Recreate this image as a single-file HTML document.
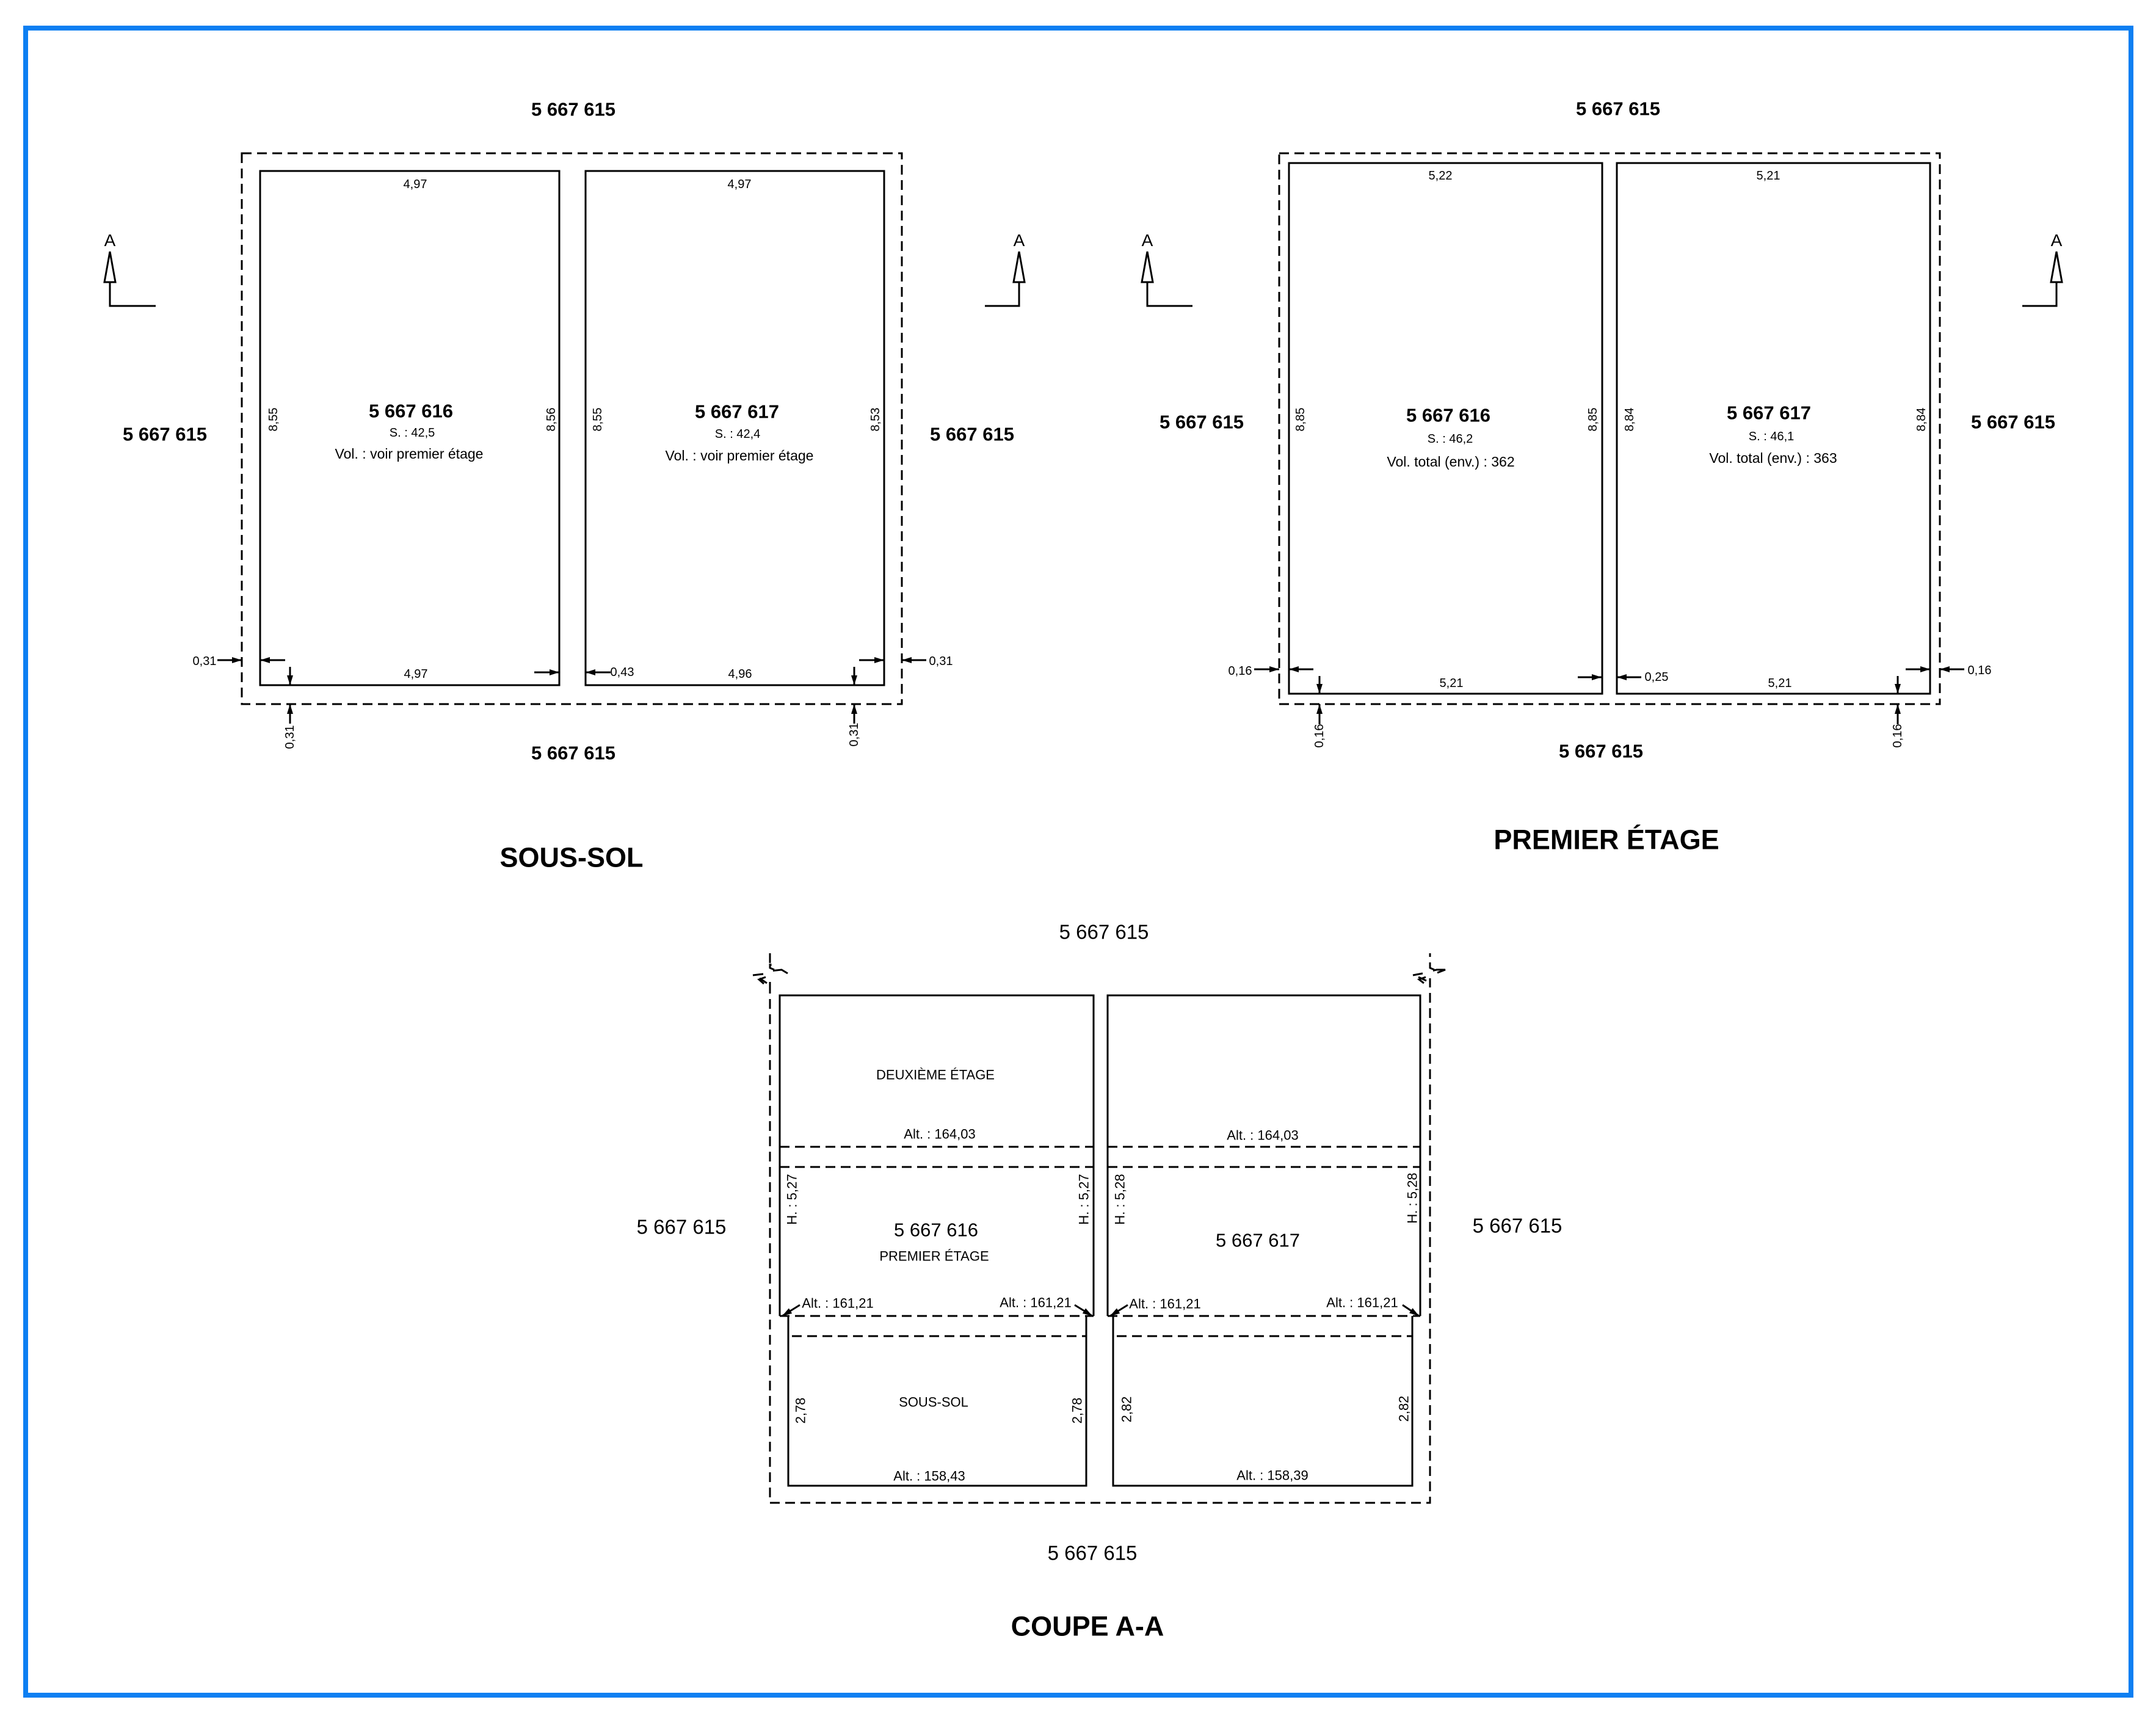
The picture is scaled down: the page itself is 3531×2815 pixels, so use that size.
<!DOCTYPE html>
<html><head><meta charset="utf-8"><style>
html,body{margin:0;padding:0;background:#fff;}
svg{display:block;}
text{font-family:"Liberation Sans",Arial,sans-serif;fill:#000;}
.b{font-weight:bold;font-size:31px;}
.s{font-size:20px;}
.m{font-size:23px;}
.t{font-weight:bold;font-size:45px;}
.r{font-size:33px;}
.c{font-size:22px;}
</style></head><body>
<svg width="3531" height="2815" viewBox="0 0 3531 2815" xmlns="http://www.w3.org/2000/svg">
<defs>
<marker id="ah" viewBox="0 0 16 10" refX="16" refY="5" markerWidth="16" markerHeight="10" markerUnits="userSpaceOnUse" orient="auto">
<path d="M0,0 L16,5 L0,10 Z" fill="#000"/></marker>
</defs>
<rect x="0" y="0" width="3531" height="2815" fill="#fff"/>
<rect x="42" y="46" width="3448" height="2730" fill="none" stroke="#0d7ff2" stroke-width="8"/>

<g fill="none" stroke="#000" stroke-width="3">
<rect x="396" y="251" width="1081" height="902" stroke-dasharray="16,9"/>
<rect x="426" y="280" width="490" height="842"/>
<rect x="959" y="280" width="489" height="842"/>
<rect x="2095" y="251" width="1082" height="902" stroke-dasharray="16,9"/>
<rect x="2111" y="267" width="513" height="869"/>
<rect x="2648" y="267" width="513" height="869"/>
<path d="M180,412 V501 H255"/><path d="M1669,412 V501 H1613"/>
<path d="M1879,412 V501 H1953"/><path d="M3368,412 V501 H3312"/>
</g>
<g fill="#fff" stroke="#000" stroke-width="3">
<path d="M180,412 L189,462 L171,462 Z"/><path d="M1669,412 L1678,462 L1660,462 Z"/>
<path d="M1879,412 L1888,462 L1870,462 Z"/><path d="M3368,412 L3377,462 L3359,462 Z"/>
</g>
<g style="font-size:28px" text-anchor="middle">
<text x="180" y="403">A</text><text x="1669" y="403">A</text>
<text x="1879" y="403">A</text><text x="3368" y="403">A</text>
</g>

<g stroke="#000" stroke-width="3" marker-end="url(#ah)">
<line x1="356" y1="1081" x2="396" y2="1081"/>
<line x1="467" y1="1081" x2="426" y2="1081"/>
<line x1="475" y1="1092" x2="475" y2="1122"/>
<line x1="475" y1="1185" x2="475" y2="1153"/>
<line x1="875" y1="1101" x2="916" y2="1101"/>
<line x1="1000" y1="1101" x2="959" y2="1101"/>
<line x1="1407" y1="1081" x2="1448" y2="1081"/>
<line x1="1399" y1="1092" x2="1399" y2="1122"/>
<line x1="1517" y1="1081" x2="1477" y2="1081"/>
<line x1="1399" y1="1185" x2="1399" y2="1153"/>

<line x1="2054" y1="1096" x2="2095" y2="1096"/>
<line x1="2151" y1="1096" x2="2111" y2="1096"/>
<line x1="2161" y1="1107" x2="2161" y2="1136"/>
<line x1="2161" y1="1186" x2="2161" y2="1153"/>
<line x1="2584" y1="1109" x2="2623" y2="1109"/>
<line x1="2688" y1="1109" x2="2648" y2="1109"/>
<line x1="3121" y1="1096" x2="3161" y2="1096"/>
<line x1="3108" y1="1107" x2="3108" y2="1136"/>
<line x1="3217" y1="1096" x2="3177" y2="1096"/>
<line x1="3108" y1="1186" x2="3108" y2="1153"/>

<line x1="1310" y1="2137" x2="1281" y2="2155"/>
<line x1="1760" y1="2137" x2="1789" y2="2155"/>
<line x1="1847" y1="2137" x2="1818" y2="2155"/>
<line x1="2297" y1="2137" x2="2324" y2="2155"/>
</g>

<g text-anchor="middle" dominant-baseline="central">
<text class="b" x="939" y="179">5 667 615</text>
<text class="b" x="270" y="711">5 667 615</text>
<text class="b" x="1592" y="711">5 667 615</text>
<text class="b" x="939" y="1233">5 667 615</text>
<text class="t" x="936" y="1404">SOUS-SOL</text>
<text class="b" x="673" y="673">5 667 616</text>
<text class="s" x="675" y="709">S. : 42,5</text>
<text class="m" x="670" y="743">Vol. : voir premier étage</text>
<text class="b" x="1207" y="674">5 667 617</text>
<text class="s" x="1208" y="711">S. : 42,4</text>
<text class="m" x="1211" y="746">Vol. : voir premier étage</text>
<text class="s" x="680" y="302">4,97</text>
<text class="s" x="1211" y="302">4,97</text>
<text class="s" x="681" y="1104">4,97</text>
<text class="s" x="1212" y="1104">4,96</text>
<text class="s" x="335" y="1083">0,31</text>
<text class="s" x="1541" y="1083">0,31</text>
<text class="s" x="1019" y="1101">0,43</text>
<text class="s" transform="translate(448,687) rotate(-90)">8,55</text>
<text class="s" transform="translate(903,687) rotate(-90)">8,56</text>
<text class="s" transform="translate(979,687) rotate(-90)">8,55</text>
<text class="s" transform="translate(1434,687) rotate(-90)">8,53</text>
<text class="s" transform="translate(475,1207) rotate(-90)">0,31</text>
<text class="s" transform="translate(1399,1203) rotate(-90)">0,31</text>

<text class="b" x="2650" y="178">5 667 615</text>
<text class="b" x="1968" y="691">5 667 615</text>
<text class="b" x="3297" y="691">5 667 615</text>
<text class="b" x="2622" y="1230">5 667 615</text>
<text class="t" x="2631" y="1375">PREMIER ÉTAGE</text>
<text class="b" x="2372" y="680">5 667 616</text>
<text class="s" x="2375" y="719">S. : 46,2</text>
<text class="m" x="2376" y="756">Vol. total (env.) : 362</text>
<text class="b" x="2897" y="676">5 667 617</text>
<text class="s" x="2901" y="715">S. : 46,1</text>
<text class="m" x="2904" y="750">Vol. total (env.) : 363</text>
<text class="s" x="2359" y="288">5,22</text>
<text class="s" x="2896" y="288">5,21</text>
<text class="s" x="2377" y="1119">5,21</text>
<text class="s" x="2915" y="1119">5,21</text>
<text class="s" x="2031" y="1099">0,16</text>
<text class="s" x="3242" y="1098">0,16</text>
<text class="s" x="2713" y="1109">0,25</text>
<text class="s" transform="translate(2130,687) rotate(-90)">8,85</text>
<text class="s" transform="translate(2609,687) rotate(-90)">8,85</text>
<text class="s" transform="translate(2669,687) rotate(-90)">8,84</text>
<text class="s" transform="translate(3147,687) rotate(-90)">8,84</text>
<text class="s" transform="translate(2161,1205) rotate(-90)">0,16</text>
<text class="s" transform="translate(3108,1205) rotate(-90)">0,16</text>
</g>

<g fill="none" stroke="#000" stroke-width="3">
<path d="M1261,1561 V2461 H2342 V1561" stroke-dasharray="16,9"/>
<path d="M1277,2155 V1630 H1791 V2155"/>
<path d="M1814,2155 V1630 H2326 V2155"/>
<path d="M1291,2155 V2433 H1779 V2155"/>
<path d="M1823,2155 V2433 H2313 V2155"/>
<g stroke-dasharray="16,9">
<line x1="1277" y1="1878" x2="1791" y2="1878"/>
<line x1="1277" y1="1911" x2="1791" y2="1911"/>
<line x1="1814" y1="1878" x2="2326" y2="1878"/>
<line x1="1814" y1="1911" x2="2326" y2="1911"/>
<line x1="1277" y1="2155" x2="1791" y2="2155"/>
<line x1="1297" y1="2188" x2="1779" y2="2188"/>
<line x1="1814" y1="2155" x2="2326" y2="2155"/>
<line x1="1829" y1="2188" x2="2313" y2="2188"/>
</g>
<path d="M1233,1597 L1250,1595 M1244,1602 L1256,1610 M1262,1590 L1280,1588 L1290,1594 M1262,1583 L1262,1578"/>
<path d="M2314,1597 L2330,1594 M2323,1600 L2336,1606 M2340,1591 L2353,1588 L2367,1588 L2354,1593"/>
</g>
<g fill="#fff"><rect x="1258" y="1582" width="8" height="24"/><rect x="2339" y="1580" width="8" height="22"/></g>
<g fill="none" stroke="#000" stroke-width="3">
<path d="M1261,1578 L1261,1585 L1268,1588 M1254,1600 L1243,1604 L1251,1611 M1261,1608 V1616"/>
<path d="M2342,1578 V1585 L2349,1588 M2335,1600 L2324,1604 L2332,1610 M2342,1607 V1616"/>
</g>
<g text-anchor="middle" dominant-baseline="central">
<text class="r" x="1808" y="1526">5 667 615</text>
<text class="r" x="1116" y="2009">5 667 615</text>
<text class="r" x="2485" y="2007">5 667 615</text>
<text class="r" x="1789" y="2543">5 667 615</text>
<text class="t" x="1781" y="2663">COUPE A-A</text>
<text class="c" x="1532" y="1760">DEUXIÈME ÉTAGE</text>
<text class="c" x="1539" y="1857">Alt. : 164,03</text>
<text class="c" x="2068" y="1859">Alt. : 164,03</text>
<text style="font-size:31px" x="1533" y="2014">5 667 616</text>
<text class="c" x="1530" y="2057">PREMIER ÉTAGE</text>
<text style="font-size:31px" x="2060" y="2031">5 667 617</text>
<text class="c" x="1372" y="2134">Alt. : 161,21</text>
<text class="c" x="1696" y="2133">Alt. : 161,21</text>
<text class="c" x="1908" y="2135">Alt. : 161,21</text>
<text class="c" x="2231" y="2133">Alt. : 161,21</text>
<text class="c" x="1529" y="2296">SOUS-SOL</text>
<text class="c" x="1522" y="2417">Alt. : 158,43</text>
<text class="c" x="2084" y="2416">Alt. : 158,39</text>
<text class="c" transform="translate(1297,1964) rotate(-90)">H. : 5,27</text>
<text class="c" transform="translate(1775,1964) rotate(-90)">H. : 5,27</text>
<text class="c" transform="translate(1834,1964) rotate(-90)">H. : 5,28</text>
<text class="c" transform="translate(2313,1962) rotate(-90)">H. : 5,28</text>
<text class="c" transform="translate(1311,2310) rotate(-90)">2,78</text>
<text class="c" transform="translate(1764,2310) rotate(-90)">2,78</text>
<text class="c" transform="translate(1845,2308) rotate(-90)">2,82</text>
<text class="c" transform="translate(2299,2307) rotate(-90)">2,82</text>
</g>
</svg>
</body></html>
